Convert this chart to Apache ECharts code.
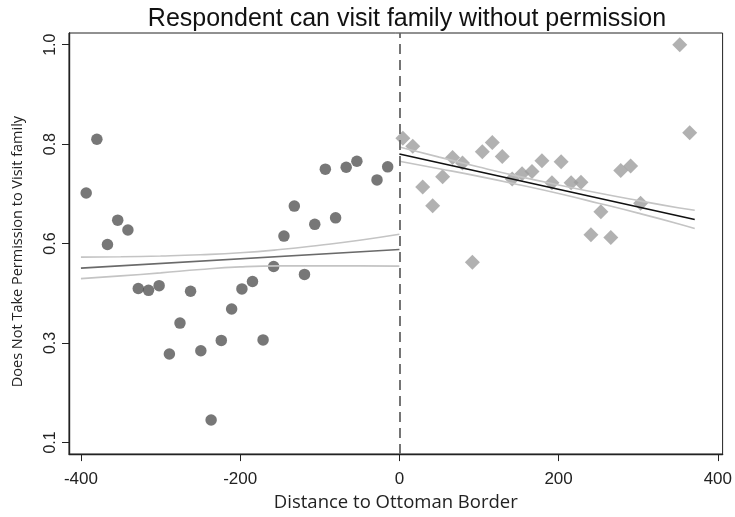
<!DOCTYPE html>
<html>
<head>
<meta charset="utf-8">
<script src="https://cdn.jsdelivr.net/npm/echarts@6/dist/echarts.min.js"></script>
<style>html,body{margin:0;padding:0;background:#fff;}#c{width:735px;height:517px;}</style>
</head>
<body>
<div id="c"></div>
<script>
// ---- data ----
const leftX = [-393.4,-380.0,-366.7,-353.8,-341.0,-328.0,-315.1,-301.8,-288.9,-275.6,-262.3,-249.4,-236.5,-223.7,-210.7,-197.8,-184.5,-171.2,-157.9,-145.0,-132.0,-119.2,-106.3,-93.0,-80.1,-66.8,-53.4,-28.1,-14.7];
const leftY = [0.658,0.773,0.548,0.600,0.579,0.454,0.450,0.460,0.314,0.380,0.448,0.321,0.173,0.343,0.410,0.453,0.469,0.344,0.501,0.566,0.630,0.484,0.591,0.709,0.605,0.713,0.726,0.686,0.714];
const rightX = [4.4,16.8,29.3,41.8,54.3,66.8,79.3,91.7,104.2,116.7,129.2,141.7,154.1,166.6,179.1,191.6,203.2,215.7,228.1,240.6,253.1,265.6,278.1,290.5,303.0,352.2,364.7];
const rightY = [0.775,0.758,0.671,0.631,0.693,0.734,0.722,0.510,0.746,0.766,0.736,0.688,0.699,0.704,0.727,0.680,0.725,0.680,0.681,0.569,0.618,0.563,0.706,0.716,0.636,0.975,0.787];

const leftFitX = [-400,-350,-300,-250,-200,-150,-100,-50,0];
const leftFitHi = [0.5209,0.5217,0.5234,0.5260,0.5302,0.5372,0.5464,0.5570,0.5698];
const leftFitLo = [0.4750,0.4809,0.4873,0.4947,0.5001,0.5022,0.5022,0.5022,0.5018];
const leftFitLineX = [-400,0];
const leftFitLineY = [0.4975,0.5372];

const rightFitX = [0,50,100,150,200,250,300,350,371];
const rightFitHi = [0.7565,0.7347,0.7136,0.6936,0.6752,0.6579,0.6418,0.6265,0.6212];
const rightFitLo = [0.7259,0.7100,0.6936,0.6758,0.6569,0.6363,0.6150,0.5925,0.5821];
const rightFitLineX = [0,371];
const rightFitLineY = [0.7413,0.6016];

const xTicks = [-400,-200,0,200,400];
const yTickVals = [0.125,0.3375,0.55,0.7625,0.975];
const yTickText = ["0.1","0.3","0.6","0.8","1.0"];

const titleText = "Respondent can visit family without permission";
const xName = "Distance to Ottoman Border";
const yName = "Does Not Take Permission to Visit family";

// ---- build ----
const zip = (a,b) => a.map((v,i)=>[v,b[i]]);
const chart = echarts.init(document.getElementById('c'), null, {renderer:'canvas'});
const ciStyle = {color:'#c4c4c4', width:1.6};
chart.setOption({
  animation:false,
  backgroundColor:'#ffffff',
  title:{text:titleText, left:402, textAlign:'center', top:2,
    textStyle:{fontFamily:'Liberation Sans', fontWeight:'normal', fontSize:25, color:'#111'}},
  grid:{left:69, top:33, width:658, height:424, show:true, borderColor:'#222', borderWidth:1, backgroundColor:'#fff'},
  xAxis:{type:'value', min:-415, max:406,
    name:xName, nameLocation:'middle', nameGap:36,
    nameTextStyle:{fontFamily:'Open Sans', fontSize:18.5, color:'#222'},
    axisLine:{show:true, onZero:false, lineStyle:{color:'#222', width:1.4}},
    axisTick:{show:true, length:7, lineStyle:{color:'#222'}, customValues:xTicks},
    axisLabel:{fontFamily:'Liberation Sans', fontSize:17, color:'#222', margin:17, customValues:xTicks},
    splitLine:{show:false}},
  yAxis:{type:'value', min:0.1, max:1.0,
    name:yName, nameLocation:'middle', nameGap:44,
    nameTextStyle:{fontFamily:'Open Sans', fontSize:14.5, color:'#222', padding:[0,16,0,0]},
    axisLine:{show:true, onZero:false, lineStyle:{color:'#222', width:1.4}},
    axisTick:{show:true, length:7, lineStyle:{color:'#222'}, customValues:yTickVals},
    axisLabel:{fontFamily:'Liberation Sans', fontSize:16, color:'#222', rotate:90, margin:10,
      customValues:yTickVals,
      formatter:(v)=>{let best=0,d=1e9;yTickVals.forEach((t,i)=>{if(Math.abs(t-v)<d){d=Math.abs(t-v);best=i;}});return yTickText[best];}},
    splitLine:{show:false}},
  series:[
    {type:'scatter', data:zip(leftX,leftY), symbol:'circle', symbolSize:11.5,
      itemStyle:{color:'#555555'}, z:2,
      markLine:{silent:true, symbol:'none', label:{show:false},
        lineStyle:{color:'#666', type:[10,6], width:1.8}, data:[{xAxis:0}]}},
    {type:'scatter', data:zip(rightX,rightY), symbol:'diamond', symbolSize:[15,15],
      itemStyle:{color:'#9e9e9e'}, z:2},
    {type:'line', data:zip(leftFitX,leftFitHi), smooth:true, showSymbol:false, lineStyle:ciStyle, z:3},
    {type:'line', data:zip(leftFitX,leftFitLo), smooth:true, showSymbol:false, lineStyle:ciStyle, z:3},
    {type:'line', data:zip(leftFitLineX,leftFitLineY), showSymbol:false, lineStyle:{color:'#6a6a6a', width:1.6}, z:4},
    {type:'line', data:zip(rightFitX,rightFitHi), smooth:true, showSymbol:false, lineStyle:ciStyle, z:3},
    {type:'line', data:zip(rightFitX,rightFitLo), smooth:true, showSymbol:false, lineStyle:ciStyle, z:3},
    {type:'line', data:zip(rightFitLineX,rightFitLineY), showSymbol:false, lineStyle:{color:'#111', width:1.6}, z:4}
  ]
});
</script>
</body>
</html>
